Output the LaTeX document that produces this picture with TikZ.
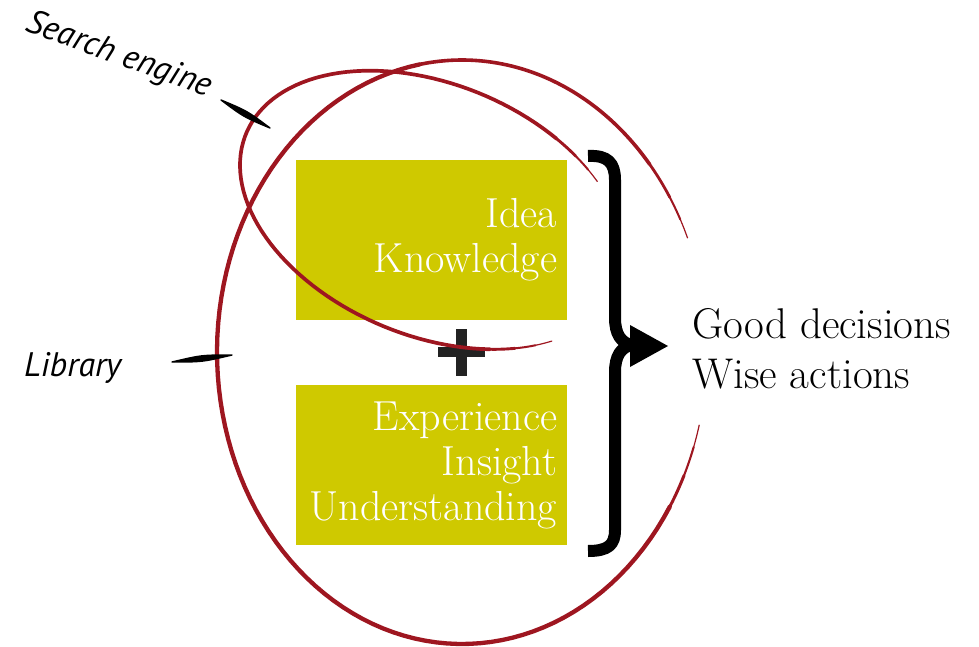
\documentclass[tikz,border=0pt]{standalone}
\usepackage{fontspec}
\usetikzlibrary{calc}
\setmainfont{Latin Modern Roman}
\newfontfamily\handfont{PT Sans}
\definecolor{boxyellow}{RGB}{207,201,0}
\definecolor{inkred}{RGB}{158,22,32}
\definecolor{plusblack}{RGB}{34,34,34}
% search-engine loop: rotated ellipse, centre (432,210), a=201, b=126, 22.3 deg
\newcommand\SEcurve[3]{\draw[inkred, line width=#3, line cap=round, line join=round]
  plot[domain=#1:#2, samples=90, variable=\t]
  ({432+201*cos(\t)*0.9252-126*sin(\t)*0.3795},{210+201*cos(\t)*0.3795+126*sin(\t)*0.9252});}
% library loop: ellipse, centre (462,352), rx=245, ry=292
\newcommand\LIBcurve[3]{\draw[inkred, line width=#3, line cap=round, line join=round]
  plot[domain=#1:#2, samples=90, variable=\t]
  ({462+245*cos(\t)},{352+292*sin(\t)});}
\begin{document}
\begin{tikzpicture}[x=1pt,y=-1pt,
  box/.style={fill=boxyellow, text=white, anchor=north west,
    minimum width=271pt, minimum height=160pt, text width=251pt,
    inner xsep=10pt, inner ysep=0pt, align=right,
    font=\fontsize{42}{45}\selectfont},
  result/.style={anchor=north west, align=left, inner sep=0pt,
    font=\fontsize{43}{50}\selectfont},
  hand/.style={inner sep=0pt, font=\handfont\itshape\fontsize{34}{34}\selectfont},
  tick/.style={fill=black, draw=black, line width=1.4pt, line cap=round, line join=round},
  bracestroke/.style={draw=black, line width=12pt, line join=round}]
\useasboundingbox (0,0) rectangle (979,647);

% boxes
\node[box] (ideas) at (296,160) {Idea\\Knowledge};
\node[box] (exper) at (296,385) {Experience\\Insight\\Understanding};

% plus sign
\fill[plusblack] (456,329) rectangle (467,376);
\fill[plusblack] (438,347) rectangle (485,357);

% library curve (tapered ends)
\LIBcurve{-23}{-27}{1.2pt}
\LIBcurve{-27}{-32}{2.0pt}
\LIBcurve{-32}{-40}{2.8pt}
\LIBcurve{-40}{-100}{3.6pt}
\LIBcurve{-100}{-328}{4.3pt}
\LIBcurve{-328}{-335}{3.0pt}
\LIBcurve{-335}{-341}{2.1pt}
\LIBcurve{-341}{-345.5}{1.2pt}

% search engine curve (tapered ends)
\SEcurve{-45}{-50}{1.2pt}
\SEcurve{-50}{-56}{2.0pt}
\SEcurve{-56}{-64}{2.9pt}
\SEcurve{-64}{-302}{3.7pt}
\SEcurve{-302}{-310}{2.9pt}
\SEcurve{-310}{-317}{2.0pt}
\SEcurve{-317}{-323}{1.2pt}

% labels
\node[hand, rotate=-20] (search) at (119,56) {Search engine};
\node[hand, anchor=base west] (library) at (24,376) {Library};
\coordinate (sA) at (221,100);
\coordinate (sB) at (270,128);
\coordinate (lA) at (172,362);
\coordinate (lB) at (232,355);
\path[tick] (sA) .. controls ($(sA)!0.5!(sB)!3.5pt!90:(sB)$) .. (sB)
  .. controls ($(sA)!0.5!(sB)!3.5pt!-90:(sB)$) .. (sA) -- cycle;
\path[tick] (lA) .. controls ($(lA)!0.5!(lB)!3.5pt!90:(lB)$) .. (lB)
  .. controls ($(lA)!0.5!(lB)!3.5pt!-90:(lB)$) .. (lA) -- cycle;

% brace
\coordinate (btop) at (588,156);
\coordinate (btip) at (632,345);
\coordinate (bbot) at (588,551);
\draw[bracestroke] (btop) .. controls (608,155) and (615,163) .. (615,180)
  -- (615,318) .. controls (615,334) and (621,343) .. (btip)
  .. controls (621,347) and (615,356) .. (615,372)
  -- (615,530) .. controls (615,545) and (608,551) .. (bbot);

% arrow head
\coordinate (aT) at (630,325);
\coordinate (aP) at (668,346);
\coordinate (aB) at (630,367);
\fill[black] (aT) -- (aP) -- (aB) -- cycle;

% result
\node[result] (result) at (692,308) {Good decisions\\Wise actions};
\end{tikzpicture}
\end{document}
